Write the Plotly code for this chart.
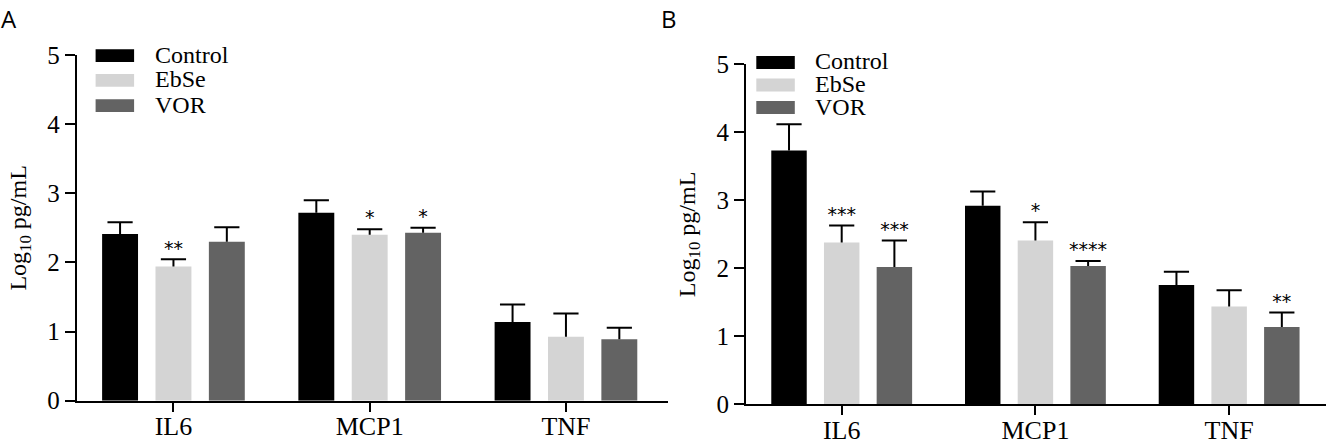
import plotly.graph_objects as go

W, H = 1326, 442

categories = ["IL6", "MCP1", "TNF"]
series_names = ["Control", "EbSe", "VOR"]
colors = ["#000000", "#d4d4d4", "#636363"]

# Panel A (Log10 pg/mL)
a_control = [2.41, 2.72, 1.14]
a_control_err = [0.17, 0.18, 0.25]
a_ebse = [1.94, 2.40, 0.925]
a_ebse_err = [0.105, 0.08, 0.335]
a_vor = [2.30, 2.43, 0.89]
a_vor_err = [0.21, 0.07, 0.165]
a_stars_control = ["", "", ""]
a_stars_ebse = ["**", "*", ""]
a_stars_vor = ["", "*", ""]

# Panel B (Log10 pg/mL)
b_control = [3.735, 2.92, 1.755]
b_control_err = [0.385, 0.21, 0.195]
b_ebse = [2.38, 2.41, 1.44]
b_ebse_err = [0.25, 0.27, 0.24]
b_vor = [2.02, 2.035, 1.14]
b_vor_err = [0.39, 0.075, 0.21]
b_stars_control = ["", "", ""]
b_stars_ebse = ["***", "*", ""]
b_stars_vor = ["***", "****", "**"]

y_ticks = [0, 1, 2, 3, 4, 5]

SERIF = "Liberation Serif, Times New Roman, serif"


def px(x):
    return x / W


def py(y):
    return 1 - y / H


fig = go.Figure()

panels = [
    ("x", "y", [a_control, a_ebse, a_vor], [a_control_err, a_ebse_err, a_vor_err],
     [a_stars_control, a_stars_ebse, a_stars_vor]),
    ("x2", "y2", [b_control, b_ebse, b_vor], [b_control_err, b_ebse_err, b_vor_err],
     [b_stars_control, b_stars_ebse, b_stars_vor]),
]

for xa, ya, vals, errs, stars in panels:
    for k, name in enumerate(series_names):
        tops = [v + e for v, e in zip(vals[k], errs[k])]
        fig.add_trace(go.Bar(
            x=categories, y=vals[k], name=name, xaxis=xa, yaxis=ya,
            marker=dict(color=colors[k], line=dict(width=0)),
            offsetgroup=str(k), showlegend=False,
        ))
        # error bar: stem + cap (upper only)
        fig.add_trace(go.Scatter(
            x=categories, y=tops, xaxis=xa, yaxis=ya, mode="markers",
            marker=dict(symbol="line-ew", size=18, color="black",
                        line=dict(width=2, color="black")),
            error_y=dict(type="data", symmetric=False, array=[0, 0, 0],
                         arrayminus=errs[k], width=0, thickness=2, color="black"),
            offsetgroup=str(k), showlegend=False, hoverinfo="skip",
        ))
        # significance stars
        fig.add_trace(go.Scatter(
            x=categories, y=tops, xaxis=xa, yaxis=ya, mode="text",
            text=stars[k], textposition="top center",
            textfont=dict(family="DejaVu Sans", size=19, color="black"),
            marker=dict(size=7),
            offsetgroup=str(k), showlegend=False, hoverinfo="skip",
        ))

axis_common_x = dict(
    type="category", showline=True, linewidth=2, linecolor="black",
    ticks="outside", ticklen=9, tickwidth=2, tickcolor="black",
    tickfont=dict(family=SERIF, size=26, color="black"),
    ticklabelstandoff=-8,
    showgrid=False, zeroline=False, fixedrange=True,
)
axis_common_y = dict(
    range=[0, 5], tickvals=y_ticks, showline=True, linewidth=2, linecolor="black",
    ticks="outside", ticklen=10, tickwidth=2, tickcolor="black",
    tickfont=dict(family=SERIF, size=25, color="black"),
    showgrid=False, zeroline=False, fixedrange=True,
    title=dict(text="Log<sub>10</sub> pg/mL", font=dict(family=SERIF, size=24, color="black"),
               standoff=14),
)

fig.update_layout(
    width=W, height=H,
    margin=dict(l=0, r=0, t=0, b=0, autoexpand=False),
    paper_bgcolor="white", plot_bgcolor="white",
    font=dict(family=SERIF, color="black"),
    barmode="group", bargap=0.184, bargroupgap=0.327,
    scattermode="group", scattergap=0.184,
    showlegend=False,
    xaxis=dict(domain=[px(76.7), px(668)], range=[-0.493, 2.52], anchor="y", **axis_common_x),
    yaxis=dict(domain=[py(400.7), py(55)], anchor="x", **axis_common_y),
    xaxis2=dict(domain=[px(746), px(1326)], range=[-0.494, 2.5], anchor="y2", **axis_common_x),
    yaxis2=dict(domain=[py(404.4), py(64.4)], anchor="x2", **axis_common_y),
)

# custom legends (wide swatches) for both panels
legend_specs = [
    (95.6, 155.4, [55.7, 80.3, 105.7]),
    (756.3, 814.7, [62.5, 85.0, 107.5]),
]
for sx, tx, rows in legend_specs:
    for k, name in enumerate(series_names):
        cy = rows[k]
        fig.add_shape(type="rect", xref="paper", yref="paper",
                      x0=px(sx), x1=px(sx + 38.5), y0=py(cy - 6.4), y1=py(cy + 6.4),
                      fillcolor=colors[k], line=dict(width=0))
        fig.add_annotation(xref="paper", yref="paper", x=px(tx - 2), y=py(cy - 1),
                           xanchor="left", yanchor="middle", showarrow=False,
                           text=name, font=dict(family=SERIF, size=24, color="black"))

# panel letters
for letter, lx in [("A", -1), ("B", 659)]:
    fig.add_annotation(xref="paper", yref="paper", x=px(lx), y=py(0),
                       xanchor="left", yanchor="top", showarrow=False,
                       text=letter, font=dict(family="Open Sans", size=24, color="black"))

fig.write_html("out.html", post_script="document.body.style.margin='0';",
               config={"displayModeBar": False})
